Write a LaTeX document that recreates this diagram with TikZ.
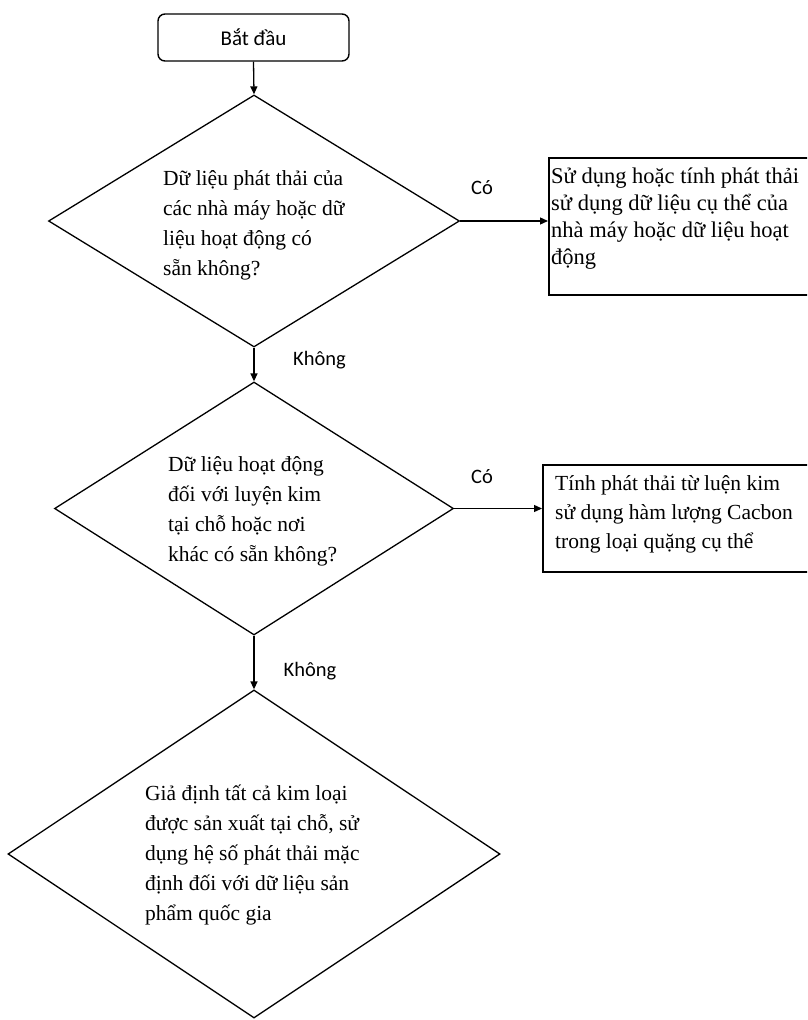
\documentclass[tikz,border=0pt]{standalone}
\usepackage{fontspec}
\setmainfont{Liberation Serif}
\newfontfamily\labelfont{Carlito}
\usetikzlibrary{shapes.geometric,arrows.meta,calc}
\begin{document}
\begin{tikzpicture}[x=1pt,y=-1pt,
  decision/.style={draw, shape=diamond, inner sep=0pt, line width=1.3pt},
  actionbox/.style={draw, rectangle, inner sep=0pt, line width=1.8pt, anchor=north west},
  startbox/.style={draw, rectangle, rounded corners=7pt, line width=1.4pt,
    minimum width=191pt, minimum height=47pt, inner sep=0pt,
    font=\labelfont\fontsize{21}{25}\selectfont},
  qtext/.style={inner sep=0pt, align=left, anchor=west,
    font=\fontsize{21.5}{30}\selectfont},
  btext/.style={inner sep=0pt, align=left, anchor=west},
  lbl/.style={inner sep=0pt, font=\labelfont\fontsize{20.5}{24}\selectfont},
  arr/.style={line width=1.3pt, -{Triangle[length=8pt,width=7pt]}}
]
\useasboundingbox (0,0) rectangle (807,1020);
\clip (0,0) rectangle (807,1020);

% start
\node[startbox] (start) at (253.5,37.5) {Bắt đầu};

% decisions
\node[decision, minimum width=411pt, minimum height=252pt] (d1) at (254,221) {};
\node[decision, minimum width=399pt, minimum height=253pt] (d2) at (254,508.5) {};
\node[decision, minimum width=492pt, minimum height=328pt] (d3) at (254,854) {};

\node[qtext] (d1t) at (163,225) {Dữ liệu phát thải của\\các nhà máy hoặc dữ\\liệu hoạt động có\\sẵn không?};
\node[qtext] (d2t) at (168,511) {Dữ liệu hoạt động\\đối với luyện kim\\tại chỗ hoặc nơi\\khác có sẵn không?};
\node[qtext] (d3t) at (145,855) {Giả định tất cả kim loại\\được sản xuất tại chỗ, sử\\dụng hệ số phát thải mặc\\định đối với dữ liệu sản\\phẩm quốc gia};

% action boxes (open to the right edge)
\node[actionbox, minimum width=275pt, minimum height=137pt] (b1) at (548,157) {};
\node[actionbox, minimum width=280pt, minimum height=107pt] (b2) at (542,464) {};

\node[btext, font=\fontsize{22.5}{27}\selectfont] (b1t) at (551,218.5) {Sử dụng hoặc tính phát thải\\sử dụng dữ liệu cụ thể của\\nhà máy hoặc dữ liệu hoạt\\động};
\node[btext, font=\fontsize{21.5}{29}\selectfont] (b2t) at (555,514) {Tính phát thải từ luện kim\\sử dụng hàm lượng Cacbon\\trong loại quặng cụ thể};

% branch labels
\node[lbl] (yes1) at (482,188) {Có};
\node[lbl] (yes2) at (482,477) {Có};
\node[lbl] (no1) at (319.5,360) {Không};
\node[lbl] (no2) at (310,671) {Không};

% connectors
\draw[arr] (start.south) -- (d1.north);
\draw[arr] (d1.east) -- (d1.east -| b1.west);
\draw[arr] (d1.south) -- (d2.north);
\draw[arr] (d2.east) -- (d2.east -| b2.west);
\draw[arr] (d2.south) -- (d3.north);
\end{tikzpicture}
\end{document}
